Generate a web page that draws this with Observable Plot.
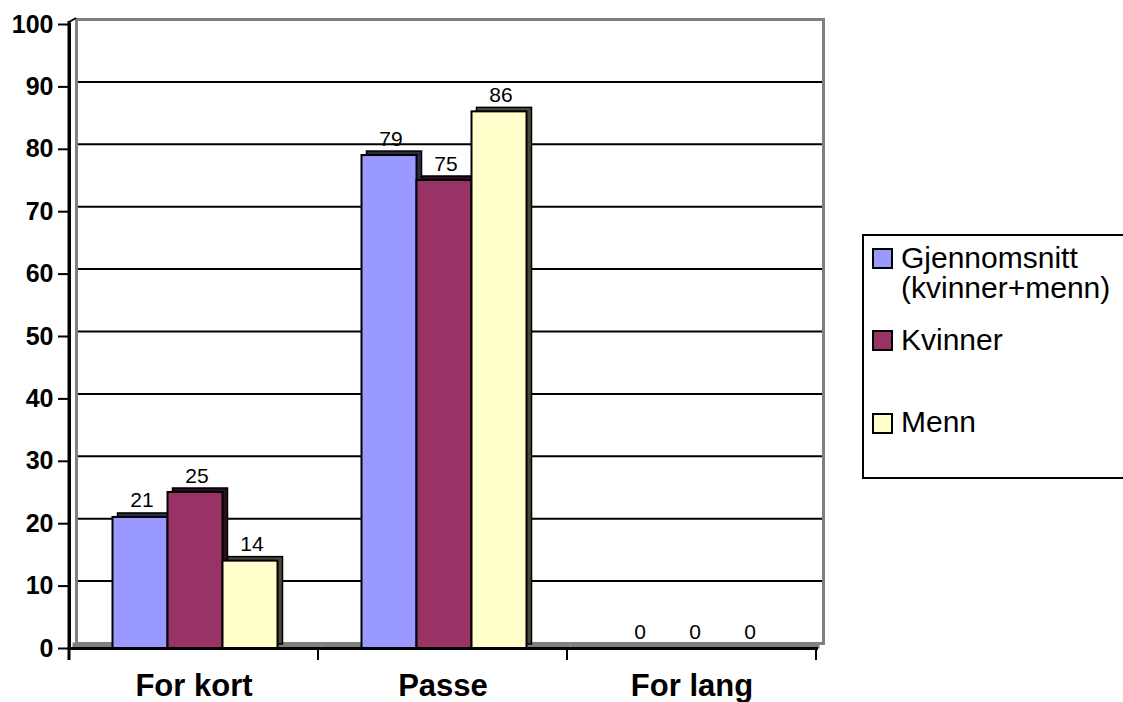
<!DOCTYPE html>
<html><head><meta charset="utf-8">
<script src="https://cdn.jsdelivr.net/npm/d3@7"></script>
<script src="https://cdn.jsdelivr.net/npm/@observablehq/plot@0.6"></script>
<style>
body{margin:0;background:#fff;font-family:"Liberation Sans",Arial,sans-serif;}
#wrap{position:relative;width:1123px;height:702px;overflow:hidden;}
#legend{position:absolute;left:862px;top:234px;width:290px;height:245px;border:2px solid #000;box-sizing:border-box;background:#fff;font-size:30px;color:#000;}
.sw{position:absolute;left:8px;width:21px;height:21px;border:2px solid #000;box-sizing:border-box;}
.lt{position:absolute;left:37px;line-height:30px;white-space:nowrap;}
</style>
</head><body>
<div id="wrap"></div>
<script>
const categories = ["For kort", "Passe", "For lang"];
const series = ["Gjennomsnitt (kvinner+menn)", "Kvinner", "Menn"];
const gjennomsnitt = [21, 79, 0];
const kvinner = [25, 75, 0];
const menn = [14, 86, 0];
const colors = ["#9999FF", "#993366", "#FFFFCC"];
const yTicks = [0, 10, 20, 30, 40, 50, 60, 70, 80, 90, 100];
const gridValues = [10, 20, 30, 40, 50, 60, 70, 80, 90];

const seriesValues = [gjennomsnitt, kvinner, menn];
const table = [];
categories.forEach((c, ci) => {
  series.forEach((s, si) => {
    table.push({category: c, series: s, value: seriesValues[si][ci], color: colors[si],
      depth: d3.color(colors[si]).darker(3.5).formatHex()});
  });
});

const font = "'Liberation Sans', Arial, sans-serif";
const plot = Plot.plot({
  width: 1123,
  height: 702,
  marginLeft: 69,
  marginRight: 307,
  marginTop: 24,
  marginBottom: 54,
  style: {fontFamily: font, background: "transparent", overflow: "visible"},
  fx: {domain: categories, padding: 0},
  x: {domain: series, paddingInner: 0, paddingOuter: 0.75, axis: null},
  y: {domain: [0, 100]},
  color: {type: "identity"},
  marks: [
    Plot.ruleY(gridValues, {stroke: "#000", strokeWidth: 2, dx: 7, dy: -5}),
    Plot.frame({facet: "super", stroke: "#808080", strokeWidth: 3, dx: 7, dy: -5}),
    Plot.ruleY([0], {stroke: "#808080", strokeWidth: 6, dx: 3.5, dy: -3}),
    Plot.barY(table, {fx: "category", x: "series", y: "value", fill: "depth", stroke: "#000", strokeWidth: 1.5, dx: 6.5, dy: -4}),
    Plot.barY(table, {fx: "category", x: "series", y: "value", fill: "color", stroke: "#000", strokeWidth: 2, dx: 1.5}),
    Plot.text(table, {fx: "category", x: "series", y: "value", text: d => String(d.value), lineAnchor: "bottom", dy: -10, dx: 3, fontSize: 21, fill: "#000"}),
    Plot.frame({facet: "super", anchor: "left", stroke: "#000", strokeWidth: 3}),
    Plot.frame({facet: "super", anchor: "bottom", stroke: "#000", strokeWidth: 3}),
    Plot.axisY({ticks: yTicks, tickSize: 11, tickPadding: 5, fontSize: 25, fontWeight: "bold", strokeWidth: 2, tickFormat: d => String(d), label: null}),
    Plot.axisFx({anchor: "bottom", tickSize: 0, tickPadding: 25, fontSize: 31, fontWeight: "bold", label: null})
  ]
});
document.getElementById("wrap").appendChild(plot);

// category boundary ticks below the baseline, from the fx and y scales
const fxS = plot.scale("fx");
const yS = plot.scale("y");
const band = d3.scaleBand(fxS.domain, fxS.range).paddingInner(fxS.paddingInner || 0).paddingOuter(fxS.paddingOuter || 0);
const edges = categories.map(c => band(c)).concat([band(categories[categories.length - 1]) + band.bandwidth()]);
const ys = yS.apply ? yS.apply : d3.scaleLinear(yS.domain, yS.range);
const y0 = ys(0), y100 = ys(100);
const svg = d3.select(plot);
const g = svg.append("g").attr("stroke", "#000").attr("stroke-width", 2);
edges.forEach(x => g.append("line").attr("x1", x).attr("x2", x).attr("y1", y0).attr("y2", y0 + 12));
g.append("line").attr("x1", edges[0]).attr("x2", edges[0]).attr("y1", y100 - 3).attr("y2", y0 + 12).attr("stroke-width", 3);
g.append("line").attr("x1", edges[0]).attr("x2", edges[0] + 7).attr("y1", y100 - 2).attr("y2", y100 - 6);

// legend
const lg = d3.select("#wrap").append("div").attr("id", "legend");
const items = [
  {label: ["Gjennomsnitt", "(kvinner+menn)"], sw: 12, tx: 7},
  {label: ["Kvinner"], sw: 94, tx: 89},
  {label: ["Menn"], sw: 177, tx: 171}
];
items.forEach((it, i) => {
  lg.append("div").attr("class", "sw").style("top", it.sw + "px").style("background", colors[i]);
  lg.append("div").attr("class", "lt").style("top", it.tx + "px").html(it.label.join("<br>"));
});
</script>
</body></html>
